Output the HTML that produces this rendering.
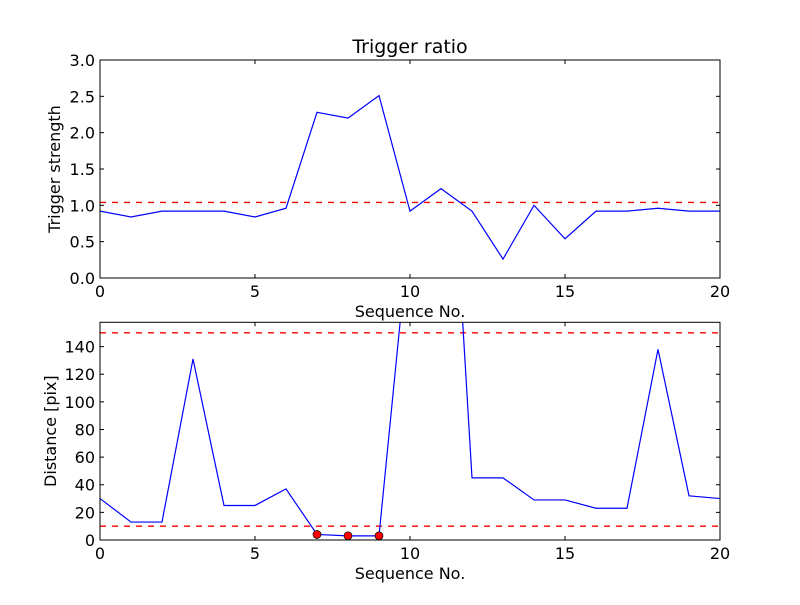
<!DOCTYPE html>
<html><head><meta charset="utf-8"><style>
body{margin:0;background:#fff;}
svg text{font-family:"DejaVu Sans","Liberation Sans",sans-serif;fill:#000;}
</style></head><body>
<svg id="chart" width="800" height="600" xmlns="http://www.w3.org/2000/svg">
<rect width="800" height="600" fill="#fff"/>
<defs>
<clipPath id="clipTop"><rect x="100" y="60" width="620" height="218"/></clipPath>
<clipPath id="clipBot"><rect x="100" y="322.3" width="620" height="217.7"/></clipPath>
</defs>
<g id="top"></g>
<g id="bot"></g>
</svg>
<script>
const seq = [0,1,2,3,4,5,6,7,8,9,10,11,12,13,14,15,16,17,18,19,20];
const ratio = [0.92,0.84,0.92,0.92,0.92,0.84,0.96,2.28,2.2,2.51,0.92,1.23,0.92,0.26,1.0,0.54,0.92,0.92,0.96,0.92,0.92];
const ratioThreshold = [1.04];
const distance = [30,13,13,131,25,25,37,4,3,3,230,420,45,45,29,29,23,23,138,32,30];
const distThresholds = [10,150];
const markedIdx = [7,8,9];
const xTicks = [0,5,10,15,20];
const topYTicks = [0,0.5,1.0,1.5,2.0,2.5,3.0];
const botYTicks = [0,20,40,60,80,100,120,140];

const NS="http://www.w3.org/2000/svg";
function mk(parent,tag,attrs,text){const e=document.createElementNS(NS,tag);for(const k in attrs)e.setAttribute(k,attrs[k]);if(text!==undefined)e.textContent=text;parent.appendChild(e);return e;}

function panel(g,top,bottom,ymin,ymax,ys,yticks,fmt,thr,clip,ylabel,title,marks){
  const L=100,R=720;
  const sx=v=>L+(v-0)/(20-0)*(R-L);
  const sy=v=>bottom-(v-ymin)/(ymax-ymin)*(bottom-top);
  const plot=mk(g,'g',{'clip-path':'url(#'+clip+')'});
  
  
  thr.forEach(t=>{const l=mk(plot,'line',{x1:L,x2:R,y1:sy(t),y2:sy(t),stroke:'#ff0000','stroke-width':1.3,'stroke-dasharray':'6,6'});
    
    });
  const pts=seq.map((x,i)=>sx(x)+','+sy(ys[i])).join(' ');
  const pl=mk(plot,'polyline',{points:pts,fill:'none',stroke:'#0000ff','stroke-width':1.2});
  
  
  if(marks){marks.forEach(i=>{const c=mk(g,'circle',{cx:sx(seq[i]),cy:sy(ys[i]),r:4,fill:'#ff0000',stroke:'#000','stroke-width':0.7});
    
    });}
  const fr=mk(g,'rect',{x:L,y:top,width:R-L,height:bottom-top,fill:'none',stroke:'#000','stroke-width':1});
  
  
  xTicks.forEach(t=>{const x=sx(t);
    mk(g,'line',{x1:x,x2:x,y1:bottom,y2:bottom-4,stroke:'#000'});
    mk(g,'line',{x1:x,x2:x,y1:top,y2:top+4,stroke:'#000'});
    const tx=mk(g,'text',{x:x,y:bottom+19,'font-size':16,'text-anchor':'middle'},String(t));
    
    });
  yticks.forEach(t=>{const y=sy(t);
    mk(g,'line',{x1:L,x2:L+4,y1:y,y2:y,stroke:'#000'});
    mk(g,'line',{x1:R,x2:R-4,y1:y,y2:y,stroke:'#000'});
    const tx=mk(g,'text',{x:L-5,y:y+6,'font-size':16,'text-anchor':'end'},fmt(t));
    
    });
  const xl=mk(g,'text',{x:410,y:bottom+39,'font-size':16,'text-anchor':'middle'},'Sequence No.');
  
  
  const yl=mk(g,'text',{x:0,y:0,'font-size':16,'text-anchor':'middle',transform:'translate('+(ylabel.x)+','+((top+bottom)/2)+') rotate(-90)'},ylabel.t);
  
  
  if(title){const tt=mk(g,'text',{x:410,y:top-7,'font-size':19,'text-anchor':'middle'},title);
    
    }
}
const gt=document.getElementById('top');


panel(gt,60,278,0,3,ratio,topYTicks,t=>t.toFixed(1),ratioThreshold,'clipTop',{x:60,t:'Trigger strength'},'Trigger ratio',null);
const gb=document.getElementById('bot');


panel(gb,322.3,540,0,157.6,distance,botYTicks,t=>String(t),distThresholds,'clipBot',{x:56,t:'Distance [pix]'},null,markedIdx);
</script>
</body></html>
